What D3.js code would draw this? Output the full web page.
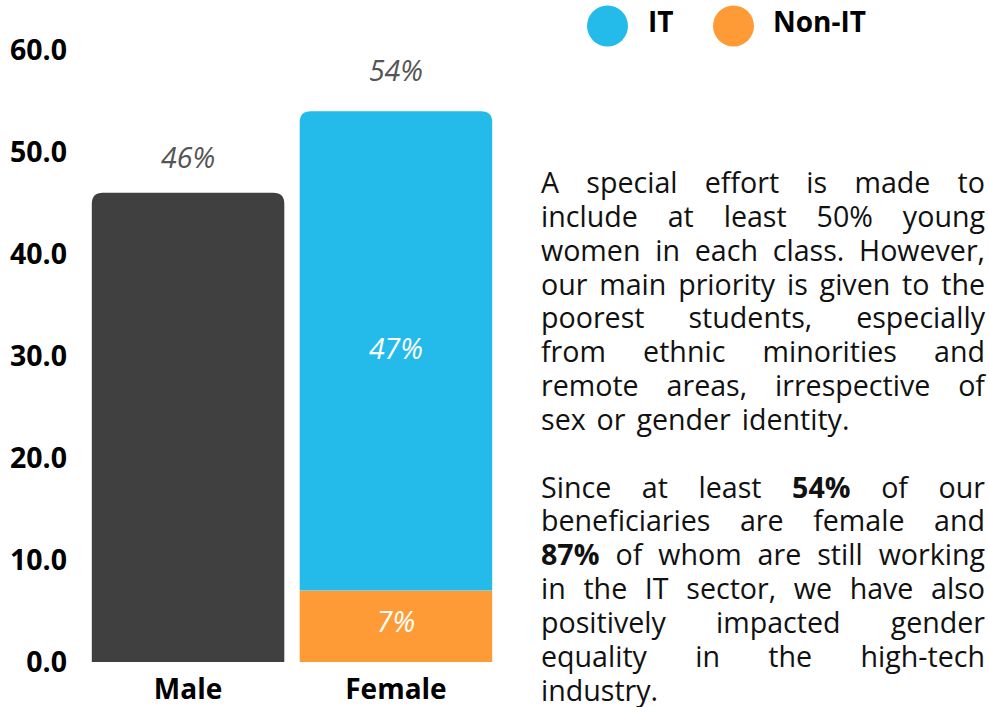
<!DOCTYPE html>
<html><head><meta charset="utf-8">
<script src="https://cdn.jsdelivr.net/npm/d3@7"></script>
<style>
body{margin:0;background:#fff;font-family:"Open Sans",sans-serif;}
#wrap{position:relative;width:989px;height:707px;overflow:hidden;}
#para{position:absolute;left:541px;top:165px;width:444px;font-size:28.6px;line-height:33.85px;color:#111;word-spacing:3.5px;}
#para .l{text-align:justify;text-align-last:justify;white-space:nowrap;}
#para .last{text-align:left;text-align-last:left;white-space:nowrap;}
#para .gap{height:33.85px;}
</style></head><body>
<div id="wrap"><svg id="chart" width="989" height="707"></svg><div id="para"></div></div>
<script>
const categories = ["Male","Female"];
const maleValues = [46, 0];
const itValues = [0, 47];
const nonItValues = [0, 7];
const totalLabels = ["46%","54%"];
const yTicks = [0,10,20,30,40,50,60];
const seriesNames = ["IT","Non-IT"];
const paragraph1 = ["A special effort is made to","include at least 50% young","women in each class. However,","our main priority is given to the","poorest students, especially","from ethnic minorities and","remote areas, irrespective of","sex or gender identity."];
const paragraph2 = ["Since at least <b>54%</b> of our","beneficiaries are female and","<b>87%</b> of whom are still working","in the IT sector, we have also","positively impacted gender","equality in the high-tech","industry."];

const colors = {male:"#404040", it:"#24bbea", nonit:"#fe9b36"};
const FS = "28.5px";
const svg = d3.select("#chart");
const y = d3.scaleLinear().domain([0,60]).range([662,50]);
const x = d3.scaleBand().domain(categories).range([83.5,500.5]).paddingInner(0.074).paddingOuter(0.04);

// y axis
const ya = svg.append("g").attr("transform","translate(67,0)")
  .call(d3.axisLeft(y).tickValues(yTicks).tickSize(0).tickPadding(0).tickFormat(d3.format(".1f")));
ya.select(".domain").remove();
ya.selectAll("text").attr("font-family","Open Sans").attr("font-weight","bold").attr("font-size",FS).attr("fill","#000").attr("dy","0.35em");

// x axis
const xa = svg.append("g").attr("transform","translate(0,662)")
  .call(d3.axisBottom(x).tickSize(0).tickPadding(0));
xa.select(".domain").remove();
xa.selectAll("text").attr("font-family","Open Sans").attr("font-weight","bold").attr("font-size","28px").attr("fill","#000").attr("y",37).attr("dy","0");

function topRounded(x0,w,yTop,yBot,r){
  return `M${x0},${yBot}V${yTop+r}Q${x0},${yTop} ${x0+r},${yTop}H${x0+w-r}Q${x0+w},${yTop} ${x0+w},${yTop+r}V${yBot}Z`;
}
const bw = x.bandwidth();
const totalLabelGap = [35, 40];
categories.forEach((c,i)=>{
  if(maleValues[i]>0){
    svg.append("path").attr("d",topRounded(x(c),bw,y(maleValues[i]),y(0),11)).attr("fill",colors.male);
  }
  if(nonItValues[i]>0){
    svg.append("rect").attr("x",x(c)).attr("width",bw).attr("y",y(nonItValues[i])).attr("height",y(0)-y(nonItValues[i])).attr("fill",colors.nonit);
    svg.append("text").attr("x",x(c)+bw/2).attr("y",(y(nonItValues[i])+y(0))/2-4).attr("dy","0.35em")
      .attr("text-anchor","middle").attr("font-style","italic").attr("font-size",FS).attr("fill","#fff").text(nonItValues[i]+"%");
  }
  if(itValues[i]>0){
    const b=nonItValues[i], t=b+itValues[i];
    svg.append("path").attr("d",topRounded(x(c),bw,y(t),y(b),11)).attr("fill",colors.it);
    svg.append("text").attr("x",x(c)+bw/2).attr("y",(y(t)+y(b))/2-2).attr("dy","0.35em")
      .attr("text-anchor","middle").attr("font-style","italic").attr("font-size",FS).attr("fill","#fff").text(itValues[i]+"%");
  }
  const tot = maleValues[i]+itValues[i]+nonItValues[i];
  svg.append("text").attr("x",x(c)+bw/2).attr("y",y(tot)-totalLabelGap[i]).attr("dy","0.35em")
    .attr("text-anchor","middle").attr("font-style","italic").attr("font-size",FS).attr("fill","#555").text(totalLabels[i]);
});
svg.selectAll("text").attr("font-family","Open Sans");

// legend
const lg = svg.append("g");
const legPos = [{cx:607.5,tx:648},{cx:733.5,tx:773}];
seriesNames.forEach((n,i)=>{
  lg.append("circle").attr("cx",legPos[i].cx).attr("cy",26).attr("r",20.5).attr("fill",i===0?colors.it:colors.nonit);
  lg.append("text").attr("x",legPos[i].tx).attr("y",22).attr("dy","0.35em").attr("font-family","Open Sans")
    .attr("font-weight","bold").attr("font-size","28px").attr("fill","#000").text(n);
});

// paragraph
const para = d3.select("#para");
function addPara(lines){
  lines.forEach((l,i)=>{
    para.append("div").attr("class", i===lines.length-1?"last":"l").html(l);
  });
}
addPara(paragraph1);
para.append("div").attr("class","gap");
addPara(paragraph2);
</script>
</body></html>
